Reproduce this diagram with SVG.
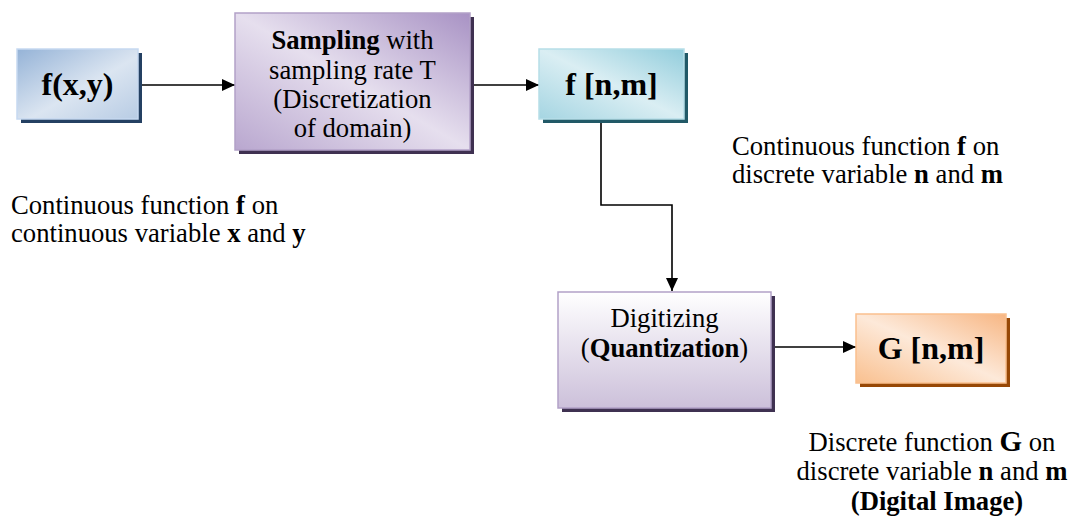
<svg xmlns="http://www.w3.org/2000/svg" width="1075" height="529" viewBox="0 0 1075 529">
<style>
text{font-family:"Liberation Serif","Times New Roman",serif;fill:#000}
.lbl{font-size:32px;font-weight:bold;text-anchor:middle}
.t{font-size:26.67px}
.c{text-anchor:middle}
.b{font-weight:bold}
.conn{fill:none;stroke:#000;stroke-width:1.6}
</style>
<defs>
<marker id="ah" markerUnits="userSpaceOnUse" markerWidth="14" markerHeight="12" refX="13" refY="6" orient="auto">
<path d="M0,0 L13,6 L0,12 Z" fill="#000"/>
</marker>
<linearGradient id="gBlue" x1="0" y1="0" x2="1" y2="1">
<stop offset="0" stop-color="#95b3d7"/><stop offset="0.55" stop-color="#dbe5f1"/><stop offset="1" stop-color="#b8cce4"/>
</linearGradient>
<linearGradient id="gPurp" x1="1" y1="0" x2="0" y2="1">
<stop offset="0" stop-color="#a892c4"/><stop offset="0.5" stop-color="#e6dfee"/><stop offset="1" stop-color="#b9a7cf"/>
</linearGradient>
<linearGradient id="gCyan" x1="1" y1="0" x2="0" y2="1">
<stop offset="0" stop-color="#92cddc"/><stop offset="0.5" stop-color="#daeef3"/><stop offset="1" stop-color="#a5d5e2"/>
</linearGradient>
<linearGradient id="gLav" x1="0" y1="0" x2="0" y2="1">
<stop offset="0" stop-color="#ffffff"/><stop offset="1" stop-color="#ccc0da"/>
</linearGradient>
<linearGradient id="gOr" x1="1" y1="0" x2="0" y2="1">
<stop offset="0" stop-color="#f7b683"/><stop offset="0.5" stop-color="#fde9d9"/><stop offset="1" stop-color="#f9c08f"/>
</linearGradient>
</defs>

<g id="connectors">
<line class="conn" x1="138" y1="85" x2="235" y2="85" marker-end="url(#ah)"/>
<line class="conn" x1="471" y1="85" x2="539" y2="85" marker-end="url(#ah)"/>
<polyline class="conn" points="601,119 601,205 672,205 672,291" marker-end="url(#ah)"/>
<line class="conn" x1="771" y1="347" x2="856" y2="347" marker-end="url(#ah)"/>
</g>

<g id="node-fxy">
<rect x="21" y="53" width="121" height="70" fill="#244062"/>
<rect x="17" y="49" width="121" height="70" fill="url(#gBlue)" stroke="#c6d9f1" stroke-width="1.5"/>
<text class="lbl" x="77.5" y="95">f(x,y)</text>
</g>

<g id="node-sampling">
<rect x="239" y="17" width="235" height="137" fill="#3f3151"/>
<rect x="235" y="13" width="235" height="137" fill="url(#gPurp)" stroke="#b2a1c7" stroke-width="1.5"/>
<text class="t c" x="352.5" y="49"><tspan class="b">Sampling</tspan> with</text>
<text class="t c" x="352.5" y="79">sampling rate T</text>
<text class="t c" x="352.5" y="108">(Discretization</text>
<text class="t c" x="352.5" y="137">of domain)</text>
</g>

<g id="node-fnm">
<rect x="543" y="53" width="145" height="70" fill="#215967"/>
<rect x="539" y="49" width="145" height="70" fill="url(#gCyan)" stroke="#b7dee8" stroke-width="1.5"/>
<text class="lbl" x="611.5" y="95">f [n,m]</text>
</g>

<g id="node-digitizing">
<rect x="562" y="296" width="213" height="116" fill="#3f3151"/>
<rect x="558" y="292" width="213" height="116" fill="url(#gLav)" stroke="#b2a1c7" stroke-width="1.5"/>
<text class="t c" x="664.5" y="327">Digitizing</text>
<text class="t c" x="664.5" y="357">(<tspan class="b">Quantization</tspan>)</text>
</g>

<g id="node-Gnm">
<rect x="860" y="318" width="150" height="69" fill="#974806"/>
<rect x="856" y="314" width="150" height="69" fill="url(#gOr)" stroke="#fac08f" stroke-width="1.5"/>
<text class="lbl" x="931" y="359">G [n,m]</text>
</g>

<g id="annotations">
<text class="t" x="11" y="214">Continuous function <tspan class="b">f</tspan> on</text>
<text class="t" x="11" y="242">continuous variable <tspan class="b">x</tspan> and <tspan class="b">y</tspan></text>
<text class="t" x="732" y="155">Continuous function <tspan class="b">f</tspan> on</text>
<text class="t" x="732" y="183">discrete variable <tspan class="b">n</tspan> and <tspan class="b">m</tspan></text>
<text class="t c" x="932" y="451">Discrete function <tspan class="b" font-size="29">G</tspan> on</text>
<text class="t c" x="932" y="480">discrete variable <tspan class="b">n</tspan> and <tspan class="b">m</tspan></text>
<text class="t c b" x="937" y="510">(Digital Image)</text>
</g>
</svg>
